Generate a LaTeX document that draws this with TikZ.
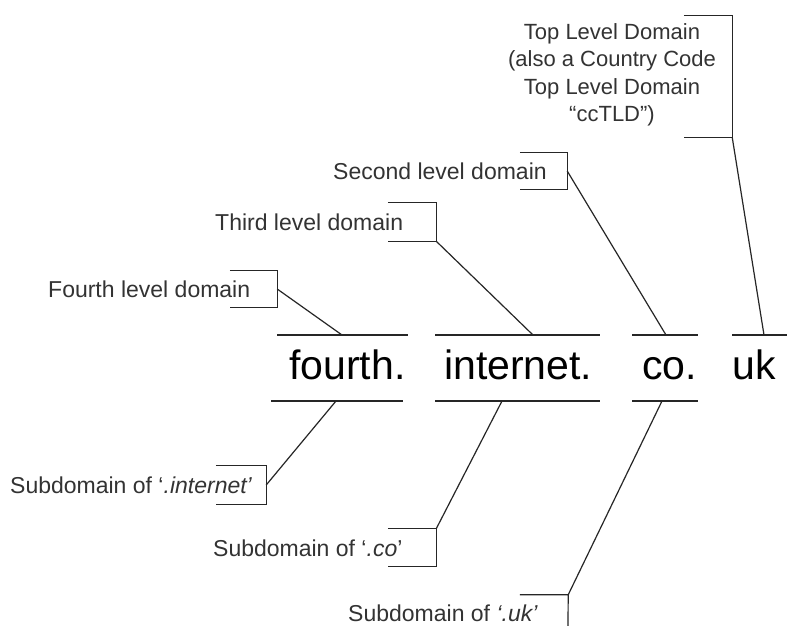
\documentclass[tikz,border=0pt]{standalone}
\usepackage{fontspec}
\setmainfont{Liberation Sans}
\begin{document}
\begin{tikzpicture}[x=1pt,y=-1pt,
  lbl/.style={anchor=base west, inner sep=0pt, text=black!80,
              font=\fontsize{23}{27.4}\selectfont},
  big/.style={anchor=base west, inner sep=0pt, text=black,
              font=\fontsize{41}{45}\selectfont},
  brk/.style={shape=rectangle, inner sep=0pt, draw=none},
  rule/.style={line width=1.2pt, black!85},
]
\useasboundingbox[fill=white] (0,0) rectangle (787,626);

% the domain name, split into its labels
\node[big] (w4) at (289,379.5) {fourth.};
\node[big] (w3) at (444,379.5) {internet.};
\node[big] (w2) at (642,379.5) {co.};
\node[big] (w1) at (732,379.5) {uk};

% rules above and below each label
\coordinate (t4a) at (277,335); \coordinate (t4b) at (408,335);
\coordinate (u4a) at (271,401); \coordinate (u4b) at (403,401);
\coordinate (t3a) at (435,335); \coordinate (t3b) at (600,335);
\coordinate (u3a) at (435,401); \coordinate (u3b) at (600,401);
\coordinate (t2a) at (632,335); \coordinate (t2b) at (698,335);
\coordinate (u2a) at (632,401); \coordinate (u2b) at (698,401);
\coordinate (t1a) at (732,335); \coordinate (t1b) at (787,335);
\draw[rule] (t4a) -- (t4b); \draw[rule] (u4a) -- (u4b);
\draw[rule] (t3a) -- (t3b); \draw[rule] (u3a) -- (u3b);
\draw[rule] (t2a) -- (t2b); \draw[rule] (u2a) -- (u2b);
\draw[rule] (t1a) -- (t1b);

% points where the leader lines meet the rules
\coordinate (p4) at (342,335); \coordinate (q4) at (336,401);
\coordinate (p3) at (533,335); \coordinate (q3) at (502,401);
\coordinate (p2) at (666,335); \coordinate (q2) at (662,401);
\coordinate (p1) at (764,335);

% labels above
\node[lbl] (l4) at (48,297) {Fourth level domain};
\node[lbl] (l3) at (215,230) {Third level domain};
\node[lbl] (l2) at (333,179) {Second level domain};
\node[inner sep=0pt, align=center, text=black!80,
      font=\fontsize{22}{27.4}\selectfont] (l1) at (612,75)
  {Top Level Domain\\(also a Country Code\\Top Level Domain\\“ccTLD”)};

% labels below
\node[lbl] (s3) at (10,493) {Subdomain of ‘\textit{.internet’}};
\node[lbl] (s2) at (213,556) {Subdomain of ‘\textit{.co}’};
\node[lbl] (s1) at (348,621) {Subdomain of \textit{‘.uk’}};

% bracket frames round the label ends
\node[brk, minimum width=47pt, minimum height=36pt] (b4) at (253.5,289) {};
\node[brk, minimum width=48pt, minimum height=38pt] (b3) at (412,222) {};
\node[brk, minimum width=47pt, minimum height=36pt] (b2) at (543.5,171) {};
\node[brk, minimum width=48pt, minimum height=121pt] (b1) at (708,76.5) {};
\node[brk, minimum width=50pt, minimum height=38pt] (c3) at (241,485) {};
\node[brk, minimum width=48pt, minimum height=37pt] (c2) at (412,547.5) {};
\node[brk, minimum width=48pt, minimum height=37pt] (c1) at (544,613.5) {};
\coordinate (c1end) at (568,626);

\foreach \b in {b4,b3,b2,b1,c3,c2}
  \draw[rule] (\b.north west) -- (\b.north east) -- (\b.south east) -- (\b.south west);
\draw[rule] (c1.north west) -- (c1.north east) -- (c1end);

% leader lines
\draw[rule] (b4.east) -- (p4);
\draw[rule] (b3.south east) -- (p3);
\draw[rule] (b2.east) -- (p2);
\draw[rule] (b1.south east) -- (p1);
\draw[rule] (c3.east) -- (q4);
\draw[rule] (c2.north east) -- (q3);
\draw[rule] (c1.north east) -- (q2);
\end{tikzpicture}
\end{document}
